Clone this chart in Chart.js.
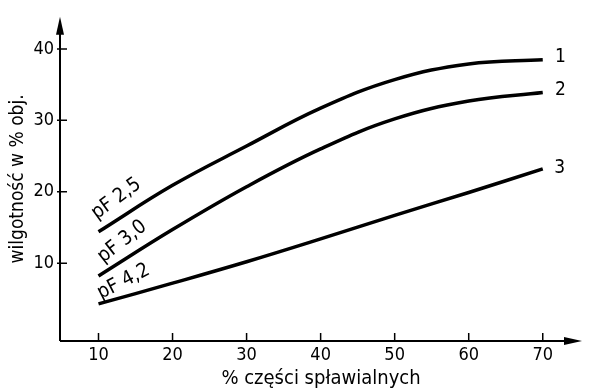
<!DOCTYPE html>
<html>
<head>
<meta charset="utf-8">
<script src="https://cdn.jsdelivr.net/npm/chart.js@4/dist/chart.umd.min.js"></script>
<style>
  html, body { margin: 0; padding: 0; background: #fff; }
  #wrap { width: 590px; height: 389px; position: relative; }
</style>
</head>
<body>
<div id="wrap"><canvas id="c"></canvas></div>
<script>
// ---- data ----
const xValues = [10, 20, 30, 40, 50, 60, 70];
const pf25 = [14.4, 20.9, 26.4, 31.7, 35.7, 37.9, 38.5];
const pf30 = [8.2, 14.7, 20.7, 26.0, 30.2, 32.7, 33.9];
const pf42 = [4.3, 7.2, 10.2, 13.4, 16.7, 19.9, 23.2];
const xTicks = [10, 20, 30, 40, 50, 60, 70];
const yTicks = [10, 20, 30, 40];
const curveNames = ['pF 2,5', 'pF 3,0', 'pF 4,2'];
const curveNamePos = [[12.4, 19.0, -36], [13.2, 13.0, -38], [13.4, 7.4, -27]];
const curveNumbers = ['1', '2', '3'];
const curveNumberPos = [[72.4, 38.8], [72.4, 34.2], [72.3, 23.3]];
const xTitle = '% części spławialnych';
const yTitle = 'wilgotność w % obj.';

const FONT = "'DejaVu Sans Condensed', 'DejaVu Sans', sans-serif";

function pts(ys) { return xValues.map((x, i) => ({ x: x, y: ys[i] })); }

const decor = {
  id: 'decor',
  afterDraw(chart) {
    const ctx = chart.ctx;
    const xs = chart.scales.x, ys = chart.scales.y;
    const ca = chart.chartArea;
    const ax = ca.left, ay = ca.bottom;
    ctx.save();
    ctx.strokeStyle = '#000';
    ctx.fillStyle = '#000';
    ctx.lineWidth = 2;
    // axes
    ctx.beginPath();
    ctx.moveTo(ax, ay); ctx.lineTo(ca.right - 10, ay);
    ctx.moveTo(ax, ay); ctx.lineTo(ax, ca.top + 12);
    ctx.stroke();
    // arrows
    ctx.beginPath();
    ctx.moveTo(ca.right, ay); ctx.lineTo(ca.right - 18, ay - 4); ctx.lineTo(ca.right - 18, ay + 4); ctx.closePath();
    ctx.fill();
    ctx.beginPath();
    ctx.moveTo(ax, ca.top); ctx.lineTo(ax - 4, ca.top + 18); ctx.lineTo(ax + 4, ca.top + 18); ctx.closePath();
    ctx.fill();
    // tick marks
    ctx.lineWidth = 1.5;
    ctx.beginPath();
    xTicks.forEach(v => { const p = xs.getPixelForValue(v); ctx.moveTo(p, ay); ctx.lineTo(p, ay - 8); });
    yTicks.forEach(v => { const p = ys.getPixelForValue(v); ctx.moveTo(ax - 3, p); ctx.lineTo(ax + 7, p); });
    ctx.stroke();
    // curve names
    ctx.font = "20px " + FONT;
    ctx.textAlign = 'center';
    ctx.textBaseline = 'middle';
    curveNames.forEach((t, i) => {
      const [vx, vy, ang] = curveNamePos[i];
      ctx.save();
      ctx.translate(xs.getPixelForValue(vx), ys.getPixelForValue(vy));
      ctx.rotate(ang * Math.PI / 180);
      ctx.fillText(t, 0, 0);
      ctx.restore();
    });
    ctx.font = "19px " + FONT;
    curveNumbers.forEach((t, i) => {
      const [vx, vy] = curveNumberPos[i];
      ctx.fillText(t, xs.getPixelForValue(vx), ys.getPixelForValue(vy));
    });
    ctx.restore();
  }
};

const ds = (d) => ({
  data: pts(d), borderColor: '#000', borderWidth: 3.5, pointRadius: 0,
  tension: 0.4, fill: false
});

new Chart(document.getElementById('c'), {
  type: 'line',
  data: { datasets: [ds(pf25), ds(pf30), ds(pf42)] },
  options: {
    responsive: true,
    maintainAspectRatio: false,
    animation: false,
    layout: { padding: { top: 10, right: 8, left: 0, bottom: 0 } },
    plugins: { legend: { display: false }, tooltip: { enabled: false } },
    scales: {
      x: {
        type: 'linear', min: 4.8, max: 75.3,
        afterBuildTicks: s => { s.ticks = xTicks.map(v => ({ value: v })); },
        afterFit: s => { s.height = 48; },
        grid: { display: false, drawTicks: false },
        border: { display: false },
        ticks: { color: '#000', font: { family: FONT, size: 18 }, padding: 4, maxRotation: 0 },
        title: { display: true, text: xTitle, color: '#000', font: { family: FONT, size: 20, lineHeight: 1 }, padding: 0 }
      },
      y: {
        type: 'linear', min: -0.9, max: 44.5,
        afterBuildTicks: s => { s.ticks = yTicks.map(v => ({ value: v })); },
        afterFit: s => { s.width = 60; },
        grid: { display: false, drawTicks: false },
        border: { display: false },
        ticks: { color: '#000', font: { family: FONT, size: 18 }, padding: 6 },
        title: { display: true, text: yTitle, color: '#000', font: { family: FONT, size: 19, lineHeight: 1 }, padding: { top: 9, bottom: 0 } }
      }
    }
  },
  plugins: [decor]
});
</script>
</body>
</html>
